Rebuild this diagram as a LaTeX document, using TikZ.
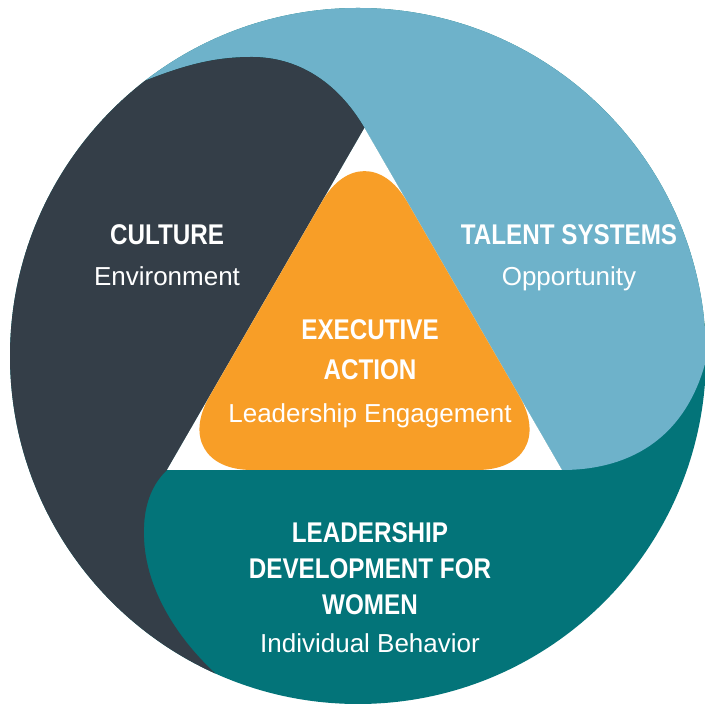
\documentclass[tikz,border=0pt]{standalone}
\usepackage{fontspec}
\setmainfont{Liberation Sans}
\newfontfamily\headfont[FakeStretch=0.85]{Liberation Sans}

\definecolor{cultureslate}{RGB}{52,62,72}
\definecolor{talentblue}{RGB}{110,178,202}
\definecolor{womenteal}{RGB}{3,116,121}
\definecolor{execorange}{RGB}{248,158,39}

\begin{document}
\begin{tikzpicture}[x=1pt,y=1pt,node distance=41pt,
  head node/.style={font=\headfont\bfseries\fontsize{28.5}{31}\selectfont,text=white,
    inner sep=0pt,text height=20pt,text depth=6pt},
  sub node/.style={font=\fontsize{26}{30}\selectfont,text=white,
    inner sep=0pt,text height=20pt,text depth=6pt}]

  \useasboundingbox (0,0) rectangle (704,708);
  \fill[white] (0,0) rectangle (704,708);

  \coordinate (ctr) at (358,352);
  \coordinate (top) at (364.5,580);
  \coordinate (bl) at (167,238);
  \coordinate (br) at (562,238);
  \coordinate (bm) at (364.5,238);

  % the three swirls, teal underneath
  \fill[womenteal] (ctr) circle (348pt);
  \begin{scope}
    \clip (ctr) circle (348pt);
    \fill[talentblue] (top) .. controls (337,627) and (297,651) .. (252,651)
      .. controls (210,651) and (175,642) .. (100,608) -- (0,720) -- (720,720)
      -- (720,380) -- (712,380) .. controls (700,280) and (640,238) .. (br) -- cycle;
    \fill[cultureslate] (top) -- (bl) .. controls (148,220) and (143,195) .. (144,170)
      .. controls (146,110) and (190,45) .. (260,0) -- (260,-20) -- (-20,-20)
      -- (-20,640) -- (100,608) .. controls (175,642) and (210,651) .. (252,651)
      .. controls (297,651) and (337,627) .. (top) -- cycle;
  \end{scope}

  % centre triangle
  \fill[white] (top) -- (bl) -- (br) -- cycle;
  \fill[execorange,rounded corners=85pt] (bm) -- (br) -- (top) -- (bl) -- cycle;

  \node[head node] (culture) at (167,470) {CULTURE};
  \node[sub node] (environment) [below of=culture] {Environment};

  \node[head node] (talent) at (569,470) {TALENT SYSTEMS};
  \node[sub node] (opportunity) [below of=talent] {Opportunity};

  \node[head node] (executive) at (370,375) {EXECUTIVE};
  \node[head node] (action) [below of=executive,node distance=40pt] {ACTION};
  \node[sub node] (engagement) [below of=action,node distance=43pt] {Leadership Engagement};

  \node[head node] (leadership) at (370,172) {LEADERSHIP};
  \node[head node] (development) [below of=leadership,node distance=36pt] {DEVELOPMENT FOR};
  \node[head node] (women) [below of=development,node distance=36pt] {WOMEN};
  \node[sub node] (behavior) [below of=women,node distance=38pt] {Individual Behavior};
\end{tikzpicture}
\end{document}
